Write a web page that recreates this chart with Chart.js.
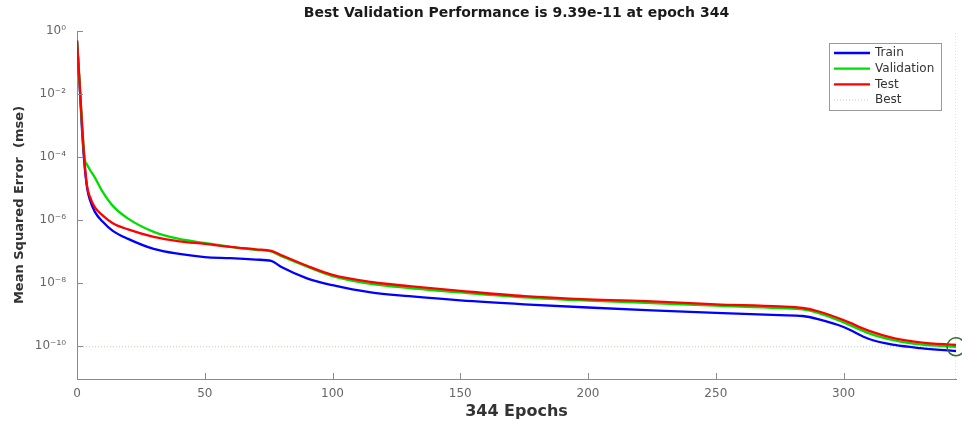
<!DOCTYPE html>
<html><head><meta charset="utf-8">
<script src="https://cdn.jsdelivr.net/npm/chart.js@4.4.0/dist/chart.umd.min.js"></script>
<style>html,body{margin:0;padding:0;background:#fff;}</style>
</head><body>
<canvas id="c" width="962" height="423"></canvas>
<script>
const epochs        = [0, 1, 2, 3, 4, 5, 7, 10, 14, 20, 30, 40, 50, 60, 70, 76, 80, 90, 100, 115, 130, 150, 175, 200, 225, 250, 275, 284, 290, 300, 310, 320, 330, 344];
const trainMSE      = [0.5, 2.0e-2, 6.3e-4, 5.0e-5, 1.0e-5, 4.5e-6, 1.8e-6, 8.9e-7, 4.5e-7, 2.5e-7, 1.2e-7, 8.3e-8, 6.6e-8, 6.1e-8, 5.5e-8, 5.0e-8, 3.2e-8, 1.4e-8, 8.5e-9, 5.0e-9, 3.8e-9, 2.8e-9, 2.1e-9, 1.66e-9, 1.35e-9, 1.12e-9, 9.5e-10, 8.9e-10, 7.1e-10, 4.0e-10, 1.66e-10, 1.07e-10, 8.5e-11, 6.9e-11];
const validationMSE = [0.5, 2.5e-2, 1.0e-3, 8.9e-5, 5.6e-5, 4.0e-5, 2.2e-5, 7.9e-6, 2.8e-6, 1.1e-6, 4.2e-7, 2.5e-7, 1.86e-7, 1.4e-7, 1.12e-7, 1.0e-7, 7.0e-8, 3.3e-8, 1.65e-8, 9.3e-9, 6.9e-9, 5.0e-9, 3.5e-9, 2.75e-9, 2.3e-9, 1.9e-9, 1.6e-9, 1.45e-9, 1.12e-9, 5.6e-10, 2.5e-10, 1.5e-10, 1.12e-10, 9.39e-11];
const testMSE       = [0.5, 2.5e-2, 1.0e-3, 6.3e-5, 1.1e-5, 5.6e-6, 2.5e-6, 1.4e-6, 7.9e-7, 5.0e-7, 2.9e-7, 2.1e-7, 1.74e-7, 1.4e-7, 1.17e-7, 1.05e-7, 7.6e-8, 3.5e-8, 1.8e-8, 1.07e-8, 7.9e-9, 5.6e-9, 3.8e-9, 3.0e-9, 2.6e-9, 2.1e-9, 1.8e-9, 1.6e-9, 1.26e-9, 6.6e-10, 3.0e-10, 1.74e-10, 1.3e-10, 1.07e-10];
const bestEpoch = 344;
const bestValue = 9.39e-11;
const xTickValues = [0, 50, 100, 150, 200, 250, 300];
const yTickValues = [1, 1e-2, 1e-4, 1e-6, 1e-8, 1e-10];
const yTickLabels = ['10⁰', '10⁻²', '10⁻⁴', '10⁻⁶', '10⁻⁸', '10⁻¹⁰'];
const xMin = 0, xMax = 344;
const yMin = 8.9e-12, yMax = 1;
const titleText = 'Best Validation Performance is 9.39e-11 at epoch 344';
const xTitleText = '344 Epochs';
const yTitleText = 'Mean Squared Error  (mse)';
const seriesNames = ['Train', 'Validation', 'Test', 'Best'];

const pts = arr => epochs.map((e, i) => ({x: e, y: arr[i]}));

const decor = {
  id: 'decor',
  afterDraw(chart) {
    const ctx = chart.ctx, a = chart.chartArea;
    const xs = chart.scales.x, ys = chart.scales.y;
    ctx.save();
    // title
    ctx.fillStyle = '#1a1a1a';
    ctx.font = 'bold 14px "DejaVu Sans"';
    ctx.textAlign = 'center';
    ctx.textBaseline = 'middle';
    ctx.fillText(titleText, (a.left + a.right) / 2, 13);
    // inward tick marks
    ctx.strokeStyle = '#8a8a8a';
    ctx.lineWidth = 1;
    ctx.beginPath();
    xTickValues.forEach(v => {
      const px = Math.round(xs.getPixelForValue(v)) + 0.5;
      ctx.moveTo(px, a.bottom); ctx.lineTo(px, a.bottom - 6);
    });
    yTickValues.forEach(v => {
      const py = Math.round(ys.getPixelForValue(v)) + 0.5;
      ctx.moveTo(a.left, py); ctx.lineTo(a.left + 6, py);
    });
    ctx.stroke();
    // legend
    const bx = 829.5, by = 43.5, bw = 112, bh = 67;
    ctx.fillStyle = '#ffffff';
    ctx.fillRect(bx, by, bw, bh);
    ctx.strokeStyle = '#9a9a9a';
    ctx.strokeRect(bx, by, bw, bh);
    ctx.font = '12px "DejaVu Sans"';
    ctx.textAlign = 'left';
    ctx.textBaseline = 'middle';
    seriesNames.forEach((name, i) => {
      const ds = chart.data.datasets.find(d => d.label === name);
      const y = 53 + i * 15.7;
      ctx.save();
      ctx.strokeStyle = ds.borderColor;
      ctx.lineWidth = ds.borderWidth;
      ctx.setLineDash(ds.borderDash || []);
      ctx.beginPath(); ctx.moveTo(834, y); ctx.lineTo(870, y); ctx.stroke();
      ctx.restore();
      ctx.fillStyle = '#333';
      ctx.fillText(name, 875, y);
    });
    ctx.restore();
  }
};

new Chart(document.getElementById('c'), {
  type: 'line',
  data: {
    datasets: [
      {label: 'Test', data: pts(testMSE), borderColor: '#ff0000', borderWidth: 2.3, pointRadius: 0, cubicInterpolationMode: 'monotone', order: 1},
      {label: 'Validation', data: pts(validationMSE), borderColor: '#00dd00', borderWidth: 2.3, pointRadius: 0, cubicInterpolationMode: 'monotone', order: 2},
      {label: 'Train', data: pts(trainMSE), borderColor: '#0000ff', borderWidth: 2.3, pointRadius: 0, cubicInterpolationMode: 'monotone', order: 3},
      {label: 'Best', data: [{x: xMin, y: bestValue}, {x: bestEpoch, y: bestValue}, {x: bestEpoch, y: null}, {x: bestEpoch, y: yMin}, {x: bestEpoch, y: yMax}],
        borderColor: 'rgba(150,185,150,0.7)', borderWidth: 1, borderDash: [1, 2], pointRadius: 0, spanGaps: false, order: 4},
      {label: 'BestPoint', data: [{x: bestEpoch, y: bestValue}], showLine: false, pointRadius: 9, pointStyle: 'circle',
        pointBorderColor: '#2f6f2f', pointBorderWidth: 1.5, pointBackgroundColor: 'rgba(0,0,0,0)', clip: false, order: 0}
    ]
  },
  options: {
    responsive: false,
    animation: false,
    devicePixelRatio: 1,
    layout: {autoPadding: false, padding: {top: 31, right: 6, left: 0, bottom: 0}},
    plugins: {legend: {display: false}, tooltip: {enabled: false}, title: {display: false}},
    scales: {
      x: {
        type: 'linear', min: xMin, max: xMax,
        afterBuildTicks: s => { s.ticks = xTickValues.map(v => ({value: v})); },
        afterFit: s => { s.height = 44; s.paddingRight = 0; },
        grid: {display: false, drawTicks: false},
        border: {display: true, color: '#8a8a8a', width: 1},
        ticks: {padding: 8, color: '#666', font: {family: 'DejaVu Sans', size: 12}, maxRotation: 0},
        title: {display: true, text: xTitleText, color: '#333', font: {family: 'DejaVu Sans', size: 16, weight: 'bold'}, padding: {top: 0, bottom: 2}}
      },
      y: {
        type: 'logarithmic', min: yMin, max: yMax,
        afterBuildTicks: s => { s.ticks = yTickValues.map(v => ({value: v})); },
        afterFit: s => { s.width = 77; },
        grid: {display: false, drawTicks: false},
        border: {display: true, color: '#8a8a8a', width: 1},
        ticks: {padding: 11, color: '#666', font: {family: 'DejaVu Sans', size: 12},
          callback: (v) => { const i = yTickValues.findIndex(t => Math.abs(Math.log10(t) - Math.log10(v)) < 1e-6); return i >= 0 ? yTickLabels[i] : ''; }},
        title: {display: true, text: yTitleText, color: '#333', font: {family: 'DejaVu Sans', size: 13, weight: 'bold'}, padding: {top: 12, bottom: 0}}
      }
    }
  },
  plugins: [decor]
});
</script>
</body></html>
